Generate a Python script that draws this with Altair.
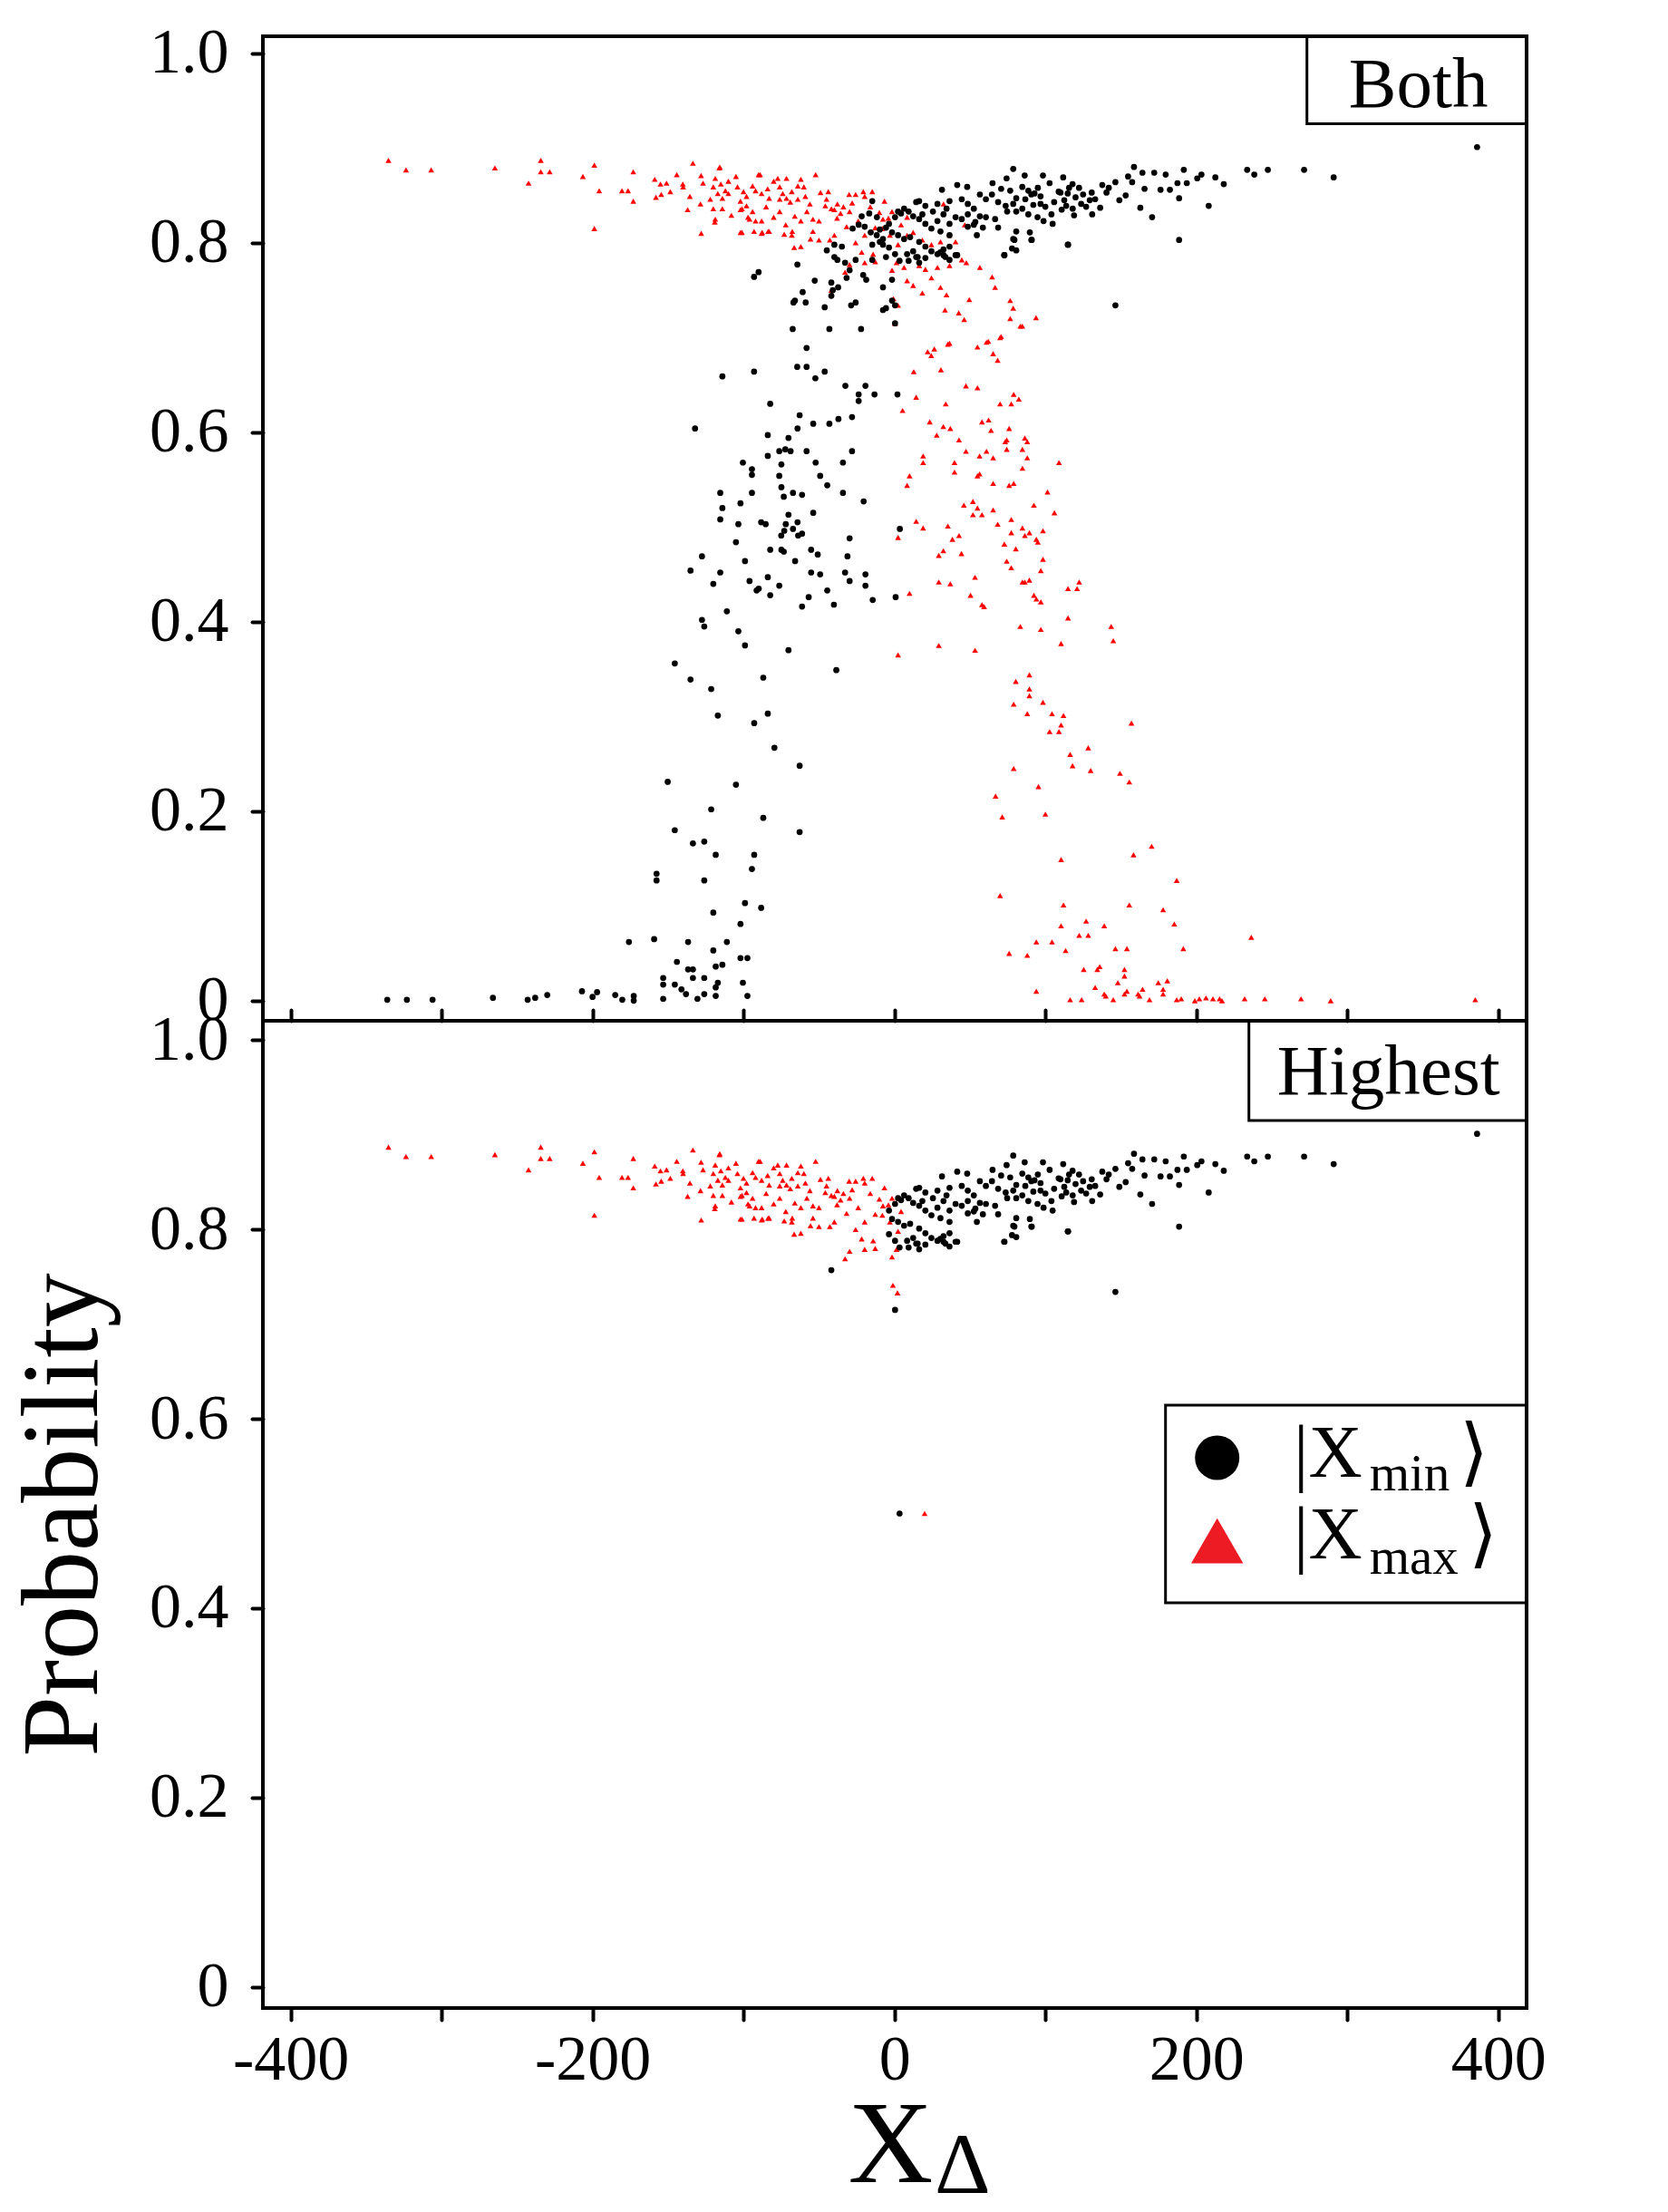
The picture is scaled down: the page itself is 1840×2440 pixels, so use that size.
import altair as alt
import pandas as pd

FONT = "Liberation Serif"

X_DOMAIN = [-418.4, 418.8]
Y_DOMAIN_TOP = [-0.0212, 1.018]
Y_DOMAIN_BOTTOM = [-0.0223, 1.0204]
X_TICKS = [-400, -300, -200, -100, 0, 100, 200, 300, 400]
Y_TICKS = [0, 0.2, 0.4, 0.6, 0.8, 1.0]

# |X_min> (black) : upper branch, right side
MIN_UPPER = [
    (78.7, 0.878), (86.3, 0.871), (98.4, 0.871), (111.8, 0.869), (74.3, 0.868), (65.0, 0.863),
    (41.6, 0.861), (48.2, 0.859), (31.5, 0.856), (70.7, 0.857), (76.7, 0.855), (84.7, 0.859),
    (88.7, 0.855), (92.8, 0.852), (96.8, 0.849), (102.8, 0.863), (108.8, 0.854), (114.8, 0.852),
    (80.7, 0.847), (86.7, 0.846), (90.7, 0.851), (56.6, 0.851), (60.6, 0.846), (64.6, 0.851),
    (68.7, 0.843), (73.7, 0.839), (78.7, 0.841), (84.7, 0.836), (96.8, 0.841), (105.8, 0.843),
    (110.8, 0.835), (113.8, 0.839), (44.6, 0.846), (48.6, 0.841), (52.6, 0.836), (36.5, 0.844),
    (34.5, 0.836), (28.5, 0.841), (25.5, 0.833), (20.5, 0.839), (16.4, 0.844), (14.4, 0.843),
    (6.4, 0.836), (9.4, 0.833), (4.4, 0.831), (2.4, 0.833), (12.4, 0.828), (16.4, 0.825),
    (20.5, 0.820), (18.5, 0.830), (28.5, 0.823), (32.5, 0.830), (36.5, 0.820), (40.5, 0.827),
    (44.6, 0.825), (48.6, 0.830), (53.6, 0.822), (56.6, 0.828), (60.6, 0.827), (66.7, 0.825),
    (74.7, 0.833), (80.7, 0.833), (88.7, 0.830), (94.8, 0.827), (98.8, 0.823), (104.8, 0.820),
    (48.6, 0.817), (52.6, 0.819), (58.6, 0.816), (68.7, 0.816), (80.7, 0.812), (54.6, 0.808),
    (78.7, 0.804), (89.7, 0.811), (90.7, 0.803), (72.7, 0.787), (80.7, 0.792), (114.8, 0.798),
    (36.5, 0.808), (30.5, 0.812), (24.5, 0.815), (0.4, 0.827), (-3.6, 0.820), (-1.6, 0.811),
    (2.4, 0.808), (6.4, 0.804), (10.4, 0.806), (16.4, 0.801), (20.5, 0.796), (24.5, 0.791),
    (32.5, 0.787), (36.5, 0.796), (40.5, 0.787), (12.4, 0.791), (14.4, 0.785), (16.4, 0.779),
    (8.4, 0.788), (20.5, 0.784), (28.5, 0.788), (36.5, 0.782), (41.6, 0.787), (32.5, 0.793),
    (3.4, 0.781), (9.4, 0.781), (15.4, 0.785), (30.4, 0.790), (33.8, 0.785), (72.9, 0.787),
    (77.9, 0.794), (79.5, 0.803), (91.0, 0.803), (386.0, 0.901), (158.7, 0.880), (164.3, 0.874),
    (172.1, 0.874), (179.7, 0.872), (191.7, 0.877), (203.4, 0.872), (212.6, 0.869), (218.2, 0.862),
    (233.7, 0.877), (238.4, 0.872), (247.4, 0.877), (271.4, 0.877), (291.0, 0.869), (146.4, 0.864),
    (154.8, 0.870), (157.5, 0.864), (165.7, 0.857), (176.3, 0.856), (182.5, 0.856), (187.5, 0.863),
    (193.7, 0.863), (200.6, 0.868), (188.6, 0.847), (208.2, 0.839), (162.9, 0.837), (170.7, 0.827),
    (188.6, 0.803), (146.4, 0.734), (115.1, 0.798), (149.0, 0.845), (153.2, 0.850), (136.3, 0.837),
    (123.7, 0.841), (129.4, 0.845), (140.5, 0.853), (130.7, 0.853), (137.7, 0.861), (122.3, 0.858),
    (110.0, 0.853), (115.7, 0.858), (112.5, 0.845), (118.1, 0.836), (120.0, 0.848), (125.0, 0.851),
    (133.0, 0.846), (142.0, 0.858), (127.0, 0.838), (119.0, 0.829), (131.0, 0.830), (100.0, 0.838),
    (104.0, 0.830), (95.0, 0.858), (92.0, 0.840), (118.0, 0.862),
]

# |X_min> (black) : lower branch, left side
MIN_LOWER = [
    (-11.6, 0.827), (-16.7, 0.831), (-14.7, 0.844), (-21.7, 0.828), (-23.7, 0.819), (-19.7, 0.817),
    (-27.7, 0.815), (-15.7, 0.811), (-11.7, 0.808), (-7.6, 0.804), (-14.7, 0.798), (-9.7, 0.801),
    (-7.6, 0.798), (-3.6, 0.795), (0.4, 0.788), (-5.6, 0.785), (-14.7, 0.782), (-25.7, 0.782),
    (-29.7, 0.771), (-31.7, 0.763), (-20.7, 0.766), (-18.7, 0.761), (-39.8, 0.798), (-34.8, 0.796),
    (-44.8, 0.792), (-39.8, 0.785), (-37.8, 0.782), (-32.7, 0.779), (-52.8, 0.760), (-41.8, 0.758),
    (-40.8, 0.750), (-41.8, 0.744), (-37.3, 0.753), (-64.3, 0.777), (-93.0, 0.764), (-90.0, 0.769),
    (-60.8, 0.748), (-66.9, 0.737), (-65.9, 0.739), (-58.8, 0.737), (-46.2, 0.732), (-28.7, 0.734),
    (-25.7, 0.737), (-7.6, 0.753), (-1.6, 0.761), (-1.6, 0.739), (-7.6, 0.729), (-5.6, 0.731),
    (0.4, 0.734), (0.4, 0.715), (-5.6, 0.816), (-9.7, 0.814),
    (-67.4, 0.709), (-43.1, 0.709), (-22.1, 0.709), (-58.2, 0.689), (-114.0, 0.659), (-93.0, 0.664),
    (-64.4, 0.669), (-58.2, 0.669), (-52.4, 0.657), (-46.2, 0.664), (-32.5, 0.649), (-19.2, 0.649),
    (-23.7, 0.640), (-23.7, 0.633), (-13.2, 0.640), (2.0, 0.640), (-82.3, 0.630), (-62.8, 0.618),
    (-64.2, 0.604), (-53.8, 0.609), (-43.1, 0.609), (-37.1, 0.614), (-28.1, 0.616), (-132.1, 0.604),
    (-83.9, 0.597), (-70.2, 0.594), (-76.3, 0.580), (-72.3, 0.582), (-68.8, 0.580), (-58.2, 0.580),
    (-28.1, 0.580), (-83.9, 0.575), (-100.4, 0.568), (-74.9, 0.566), (-52.2, 0.568), (-34.1, 0.568),
    (-94.4, 0.561), (-94.4, 0.555), (-76.3, 0.554), (-49.2, 0.554), (-44.5, 0.544), (-74.9, 0.542),
    (-73.3, 0.532), (-67.2, 0.536), (-61.2, 0.534), (-34.1, 0.536), (-20.4, 0.527), (-115.4, 0.536),
    (-102.0, 0.525), (-114.0, 0.520), (-115.4, 0.508), (-103.4, 0.503), (-94.4, 0.536), (-70.2, 0.513),
    (-53.8, 0.515), (-88.3, 0.505), (-85.3, 0.503), (-72.0, 0.503), (-67.2, 0.498), (-64.2, 0.505),
    (-73.0, 0.496), (-63.8, 0.491), (-61.2, 0.493), (-75.0, 0.491), (-105.0, 0.484), (-29.7, 0.488),
    (3.6, 0.498), (-82.3, 0.476), (-74.9, 0.476), (-73.3, 0.474), (-55.2, 0.476), (-50.8, 0.471),
    (-31.1, 0.469), (-127.5, 0.469), (-99.0, 0.464), (-65.8, 0.464), (-135.1, 0.454), (-115.4, 0.452),
    (-55.2, 0.452), (-49.2, 0.450), (-32.7, 0.452), (-19.2, 0.450), (-29.7, 0.443), (-19.2, 0.438),
    (-120.0, 0.440), (-96.0, 0.443), (-83.9, 0.447), (-76.3, 0.438), (-91.3, 0.433), (-89.9, 0.435),
    (-82.3, 0.428), (-44.5, 0.433), (-56.8, 0.426), (-40.1, 0.418), (-61.2, 0.416), (-14.4, 0.423),
    (0.8, 0.426), (-111.0, 0.411), (-127.5, 0.402), (-126.0, 0.395), (-103.4, 0.390), (-99.0, 0.375),
    (-70.2, 0.370), (-145.5, 0.356), (-135.1, 0.339), (-121.4, 0.329), (-86.9, 0.341), (-38.5, 0.349),
    (-117.0, 0.301), (-92.9, 0.293), (-83.9, 0.303), (-79.5, 0.267), (-62.8, 0.248), (-150.2, 0.231),
    (-105.0, 0.228), (-121.4, 0.202), (-86.9, 0.193), (-62.8, 0.178), (-145.5, 0.180), (-133.5, 0.166),
    (-126.0, 0.168), (-118.4, 0.154), (-92.9, 0.154), (-94.4, 0.139), (-157.6, 0.134), (-157.6, 0.127),
    (-126.0, 0.127), (-120.0, 0.093), (-99.0, 0.103), (-88.3, 0.098), (-102.0, 0.081), (-175.9, 0.062),
    (-159.2, 0.065), (-136.7, 0.062), (-111.0, 0.062), (-120.0, 0.053), (-102.0, 0.045), (-97.4, 0.045),
    (-144.1, 0.041), (-136.7, 0.033), (-133.5, 0.033), (-118.4, 0.036), (-114.0, 0.038), (-153.2, 0.024),
    (-153.2, 0.017), (-145.5, 0.017), (-133.5, 0.024), (-126.0, 0.024), (-141.1, 0.012), (-138.1, 0.007),
    (-117.0, 0.019), (-118.4, 0.014), (-100.4, 0.019), (-172.7, 0.005), (-172.7, 0.000), (-180.3, 0.001),
    (-153.2, 0.002), (-130.5, 0.002), (-126.0, 0.007), (-118.4, 0.005), (-97.4, 0.005),
    (-336.0, 0.001), (-323.0, 0.001), (-306.0, 0.001), (-266.0, 0.003), (-243.0, 0.001), (-238.0, 0.003),
    (-230.0, 0.006), (-207.0, 0.010), (-200.0, 0.004), (-197.0, 0.009), (-185.0, 0.006),
]

# |X_max> (red) : upper branch, left side
MAX_UPPER = [
    (-335.2, 0.887), (-323.6, 0.877), (-306.9, 0.877), (-264.7, 0.879), (-242.4, 0.863), (-234.3, 0.887),
    (-234.3, 0.875), (-228.4, 0.875), (-206.4, 0.870), (-198.8, 0.882), (-198.8, 0.815), (-195.6, 0.855),
    (-180.5, 0.855), (-176.5, 0.855), (-173.0, 0.875), (-173.0, 0.844), (-158.8, 0.867), (-155.0, 0.862),
    (-151.0, 0.863), (-144.2, 0.872), (-140.2, 0.862), (-133.5, 0.884), (-128.1, 0.871), (-126.8, 0.863),
    (-116.0, 0.879), (-118.7, 0.868), (-158.0, 0.848), (-154.5, 0.851), (-148.5, 0.854), (-140.0, 0.859),
    (-135.5, 0.849), (-137.0, 0.835), (-128.5, 0.841), (-128.0, 0.810), (-118.7, 0.825), (-101.0, 0.811),
    (-93.0, 0.812), (-87.6, 0.811), (-83.7, 0.812), (-89.0, 0.872), (-77.3, 0.868), (-101.0, 0.836),
    (-97.0, 0.827), (-73.0, 0.809), (-67.7, 0.812), (-66.4, 0.795), (-55.6, 0.804), (-49.0, 0.853),
    (-30.0, 0.851), (-20.6, 0.854), (-115.7, 0.880), (-90.0, 0.872), (-71.5, 0.868), (-52.2, 0.872),
    (-120.0, 0.859), (-115.0, 0.862), (-112.0, 0.855), (-117.0, 0.852), (-122.0, 0.846), (-114.0, 0.847),
    (-110.0, 0.852), (-104.0, 0.859), (-100.0, 0.854), (-94.0, 0.860), (-92.0, 0.855), (-88.0, 0.852),
    (-84.0, 0.857), (-83.0, 0.847), (-98.0, 0.849), (-102.0, 0.844), (-76.0, 0.859), (-74.0, 0.852),
    (-71.5, 0.847), (-68.0, 0.854), (-64.0, 0.860), (-60.0, 0.859), (-59.0, 0.849), (-64.0, 0.846),
    (-69.0, 0.843), (-76.0, 0.846), (-43.8, 0.854), (-25.7, 0.851), (-19.7, 0.849), (-14.7, 0.854),
    (-6.6, 0.844), (-45.8, 0.839), (-41.8, 0.836), (-37.8, 0.841), (-33.8, 0.838), (-29.7, 0.833),
    (-35.7, 0.831), (-39.8, 0.835), (-120.0, 0.836), (-114.0, 0.836), (-102.0, 0.835), (-98.0, 0.839),
    (-94.0, 0.833), (-76.0, 0.833), (-80.0, 0.827), (-66.0, 0.828), (-62.0, 0.823), (-58.0, 0.833),
    (-54.0, 0.825), (-50.0, 0.823), (-88.0, 0.823), (-96.0, 0.825), (-92.0, 0.823), (-119.0, 0.822),
    (-72.0, 0.819), (-102.0, 0.811), (-88.0, 0.810), (-83.0, 0.812), (-68.0, 0.808), (-54.0, 0.812),
    (-50.0, 0.803), (-39.8, 0.808), (-31.7, 0.817), (-25.7, 0.800), (-19.7, 0.808), (-62.0, 0.796),
    (-42.8, 0.803), (-12.7, 0.816), (-7.6, 0.825), (-1.6, 0.833), (-14.1, 0.788), (-21.7, 0.790),
    (-19.7, 0.779), (-12.7, 0.780), (-1.6, 0.771), (1.4, 0.779), (-29.7, 0.777), (-32.7, 0.769),
    (-110.0, 0.865), (-105.0, 0.870), (-80.0, 0.865), (-62.0, 0.867), (-45.0, 0.846), (-38.0, 0.826),
    (-28.0, 0.842), (-16.0, 0.838), (-10.0, 0.832), (-4.0, 0.826), (-8.0, 0.815), (-3.0, 0.808),
    (-24.0, 0.823), (-56.0, 0.841), (-85.0, 0.838), (-108.0, 0.829), (4.4, 0.819), (2.4, 0.798),
    (8.4, 0.827), (8.4, 0.808), (12.4, 0.811), (18.5, 0.803), (24.5, 0.798), (30.5, 0.801),
    (36.5, 0.808), (40.5, 0.801), (32.5, 0.841), (46.6, 0.819), (6.4, 0.774), (16.4, 0.776),
    (20.5, 0.772), (28.5, 0.774), (36.5, 0.776), (44.6, 0.782), (47.6, 0.779), (56.6, 0.774),
]

# |X_max> (red) : lower branch, right side
MAX_LOWER = [
    (8.4, 0.760), (12.4, 0.755), (24.5, 0.763), (30.5, 0.753), (34.5, 0.745), (18.5, 0.747),
    (-0.6, 0.741), (2.4, 0.734), (-41.8, 0.750), (0.4, 0.715), (49.6, 0.740), (76.7, 0.739),
    (78.7, 0.731), (93.8, 0.721), (84.7, 0.712), (76.7, 0.720), (33.5, 0.729), (42.6, 0.726),
    (46.2, 0.719), (70.7, 0.701), (62.2, 0.696), (36.5, 0.694), (64.7, 0.764), (66.7, 0.753),
    (83.4, 0.712), (70.0, 0.700), (61.0, 0.695), (55.0, 0.690), (35.4, 0.693), (22.0, 0.685),
    (26.4, 0.688), (24.4, 0.681), (65.4, 0.683), (68.4, 0.676), (12.8, 0.664), (30.8, 0.666),
    (47.4, 0.649), (55.0, 0.647), (14.4, 0.637), (5.4, 0.623), (34.0, 0.630), (70.0, 0.630),
    (77.4, 0.630), (79.0, 0.640), (82.4, 0.635), (23.4, 0.611), (32.4, 0.606), (37.0, 0.604),
    (28.0, 0.597), (58.0, 0.611), (62.4, 0.613), (64.0, 0.602), (76.0, 0.604), (42.8, 0.592),
    (47.4, 0.580), (61.0, 0.580), (56.4, 0.575), (65.4, 0.573), (73.4, 0.590), (74.4, 0.592),
    (74.4, 0.582), (86.4, 0.594), (88.0, 0.590), (84.8, 0.582), (88.0, 0.573), (84.8, 0.562),
    (109.0, 0.568), (19.0, 0.575), (19.0, 0.568), (39.8, 0.568), (39.8, 0.558), (55.0, 0.554),
    (56.4, 0.556), (10.0, 0.554), (8.4, 0.544), (65.4, 0.546), (76.0, 0.544), (79.0, 0.546),
    (101.4, 0.537), (92.4, 0.523), (106.0, 0.515), (46.0, 0.523), (52.0, 0.527), (55.0, 0.520),
    (52.0, 0.513), (58.0, 0.513), (65.4, 0.518), (14.4, 0.506), (19.0, 0.499), (35.4, 0.501),
    (68.4, 0.503), (77.4, 0.508), (77.4, 0.494), (84.8, 0.499), (86.4, 0.491), (89.4, 0.494),
    (94.0, 0.487), (95.0, 0.484), (98.4, 0.496), (2.4, 0.489), (42.8, 0.491), (38.4, 0.487),
    (72.8, 0.482), (80.4, 0.477), (32.4, 0.475), (29.4, 0.470), (44.4, 0.472), (74.4, 0.464),
    (77.4, 0.457), (98.4, 0.466), (97.0, 0.454), (53.4, 0.447), (29.4, 0.442), (37.0, 0.440),
    (84.8, 0.442), (86.4, 0.442), (89.4, 0.444), (115.0, 0.435), (121.0, 0.435), (122.4, 0.442),
    (10.0, 0.430), (50.4, 0.428), (58.0, 0.418), (59.4, 0.416), (92.4, 0.428), (94.0, 0.424),
    (97.0, 0.421), (115.0, 0.404), (83.4, 0.395), (97.0, 0.392), (143.6, 0.395), (145.0, 0.380),
    (110.4, 0.377), (29.4, 0.375), (53.4, 0.370), (2.4, 0.365), (89.4, 0.344), (80.4, 0.337),
    (89.4, 0.329), (89.4, 0.322), (79.0, 0.313), (98.4, 0.315), (88.0, 0.303), (104.4, 0.303),
    (112.0, 0.301), (110.4, 0.291), (109.0, 0.284), (102.8, 0.284), (157.0, 0.293), (116.4, 0.260),
    (118.0, 0.248), (128.4, 0.267), (130.0, 0.243), (149.4, 0.240), (155.6, 0.231), (79.0, 0.245),
    (95.4, 0.226), (67.0, 0.216), (71.4, 0.194), (100.0, 0.197), (110.4, 0.149), (158.4, 0.154),
    (170.4, 0.163), (187.0, 0.127), (70.0, 0.111), (112.0, 0.101), (155.6, 0.101), (178.0, 0.096),
    (185.4, 0.081), (110.4, 0.079), (127.0, 0.084), (122.4, 0.069), (128.4, 0.069), (139.0, 0.079),
    (94.0, 0.062), (104.4, 0.062), (76.0, 0.050), (88.0, 0.048), (113.4, 0.053), (146.4, 0.055),
    (154.0, 0.055), (191.4, 0.055), (236.4, 0.067), (125.4, 0.033), (134.4, 0.033), (136.0, 0.036),
    (152.4, 0.033), (152.4, 0.026), (148.0, 0.019), (133.0, 0.014), (139.0, 0.007), (140.0, 0.005),
    (152.4, 0.007), (154.0, 0.010), (161.4, 0.007), (164.4, 0.012), (162.4, 0.005), (174.8, 0.019),
    (180.8, 0.021), (178.0, 0.012), (178.0, 0.007), (94.0, 0.010), (116.4, 0.001), (124.0, 0.001),
    (145.0, 0.001), (169.0, 0.001), (187.0, 0.001), (190.0, 0.002), (199.0, 0.000), (202.0, 0.002),
    (206.4, 0.003), (211.0, 0.002), (215.4, 0.002), (217.0, 0.000), (232.0, 0.002), (245.4, 0.002),
    (269.4, 0.002), (289.0, 0.000), (384.8, 0.001),
]

# extra points that only appear in the "Highest" panel
HIGHEST_EXTRA_MIN = [(-41.8, 0.757), (0.4, 0.715), (146.4, 0.734), (3.4, 0.500)]
HIGHEST_EXTRA_MAX = [(-1.0, 0.741), (2.0, 0.733), (20.0, 0.500)]

W, H1, H2 = 1394, 1086, 1089

min_all = pd.DataFrame(MIN_UPPER + MIN_LOWER, columns=["x", "p"])
max_all = pd.DataFrame(MAX_UPPER + MAX_LOWER, columns=["x", "p"])
min_high = pd.concat([
    min_all[(min_all.x >= -5) & (min_all.p >= 0.765)],
    pd.DataFrame(HIGHEST_EXTRA_MIN, columns=["x", "p"]),
])
max_high = pd.concat([
    max_all[(max_all.x <= 5) & (max_all.p >= 0.765)],
    pd.DataFrame(HIGHEST_EXTRA_MAX, columns=["x", "p"]),
])
ONE = pd.DataFrame({"k": [0]})

Y_LABEL_EXPR = "datum.value == 0 ? '0' : format(datum.value, '.1f')"
X_LABEL_EXPR = "datum.value % 200 == 0 ? (datum.value < 0 ? '-' : '') + abs(datum.value) : ''"
LABEL_SIZE = 70


def y_axis():
    return alt.Axis(
        values=Y_TICKS, labelExpr=Y_LABEL_EXPR, tickSize=12, tickWidth=4, tickColor="black",
        tickCap="round", domain=False, grid=False, labelFont=FONT, labelFontSize=LABEL_SIZE,
        labelColor="black", labelPadding=26, titleFont=FONT, titleFontSize=120,
        titleFontWeight="normal", titleColor="black", titlePadding=33,
    )


top_x_axis = alt.Axis(
    values=X_TICKS, labels=False, tickSize=12, tickWidth=4, tickColor="black",
    tickCap="round", domain=False, grid=False, offset=-12,
)
bottom_x_axis = alt.Axis(
    values=X_TICKS, labelExpr=X_LABEL_EXPR, tickSize=13, tickWidth=4, tickColor="black",
    tickCap="round", domain=False, grid=False, labelFont=FONT, labelFontSize=LABEL_SIZE,
    labelColor="black", labelPadding=10, labelFlush=False, titleFont=FONT,
    titleFontSize=130, titleFontWeight="normal", titleColor="black",
    titleX=692, titleY=191, titleAlign="center", titleBaseline="alphabetic",
)


def scatter(df_min, df_max, x_axis, y_domain, x_title, y_title):
    xs = alt.Scale(domain=X_DOMAIN, nice=False, zero=False)
    ys = alt.Scale(domain=y_domain, nice=False, zero=False)
    if x_title:
        xe = alt.X("x:Q", scale=xs, axis=x_axis, title=x_title)
    else:
        xe = alt.X("x:Q", scale=xs, axis=x_axis, title=None)
    if y_title:
        ye = alt.Y("p:Q", scale=ys, axis=y_axis(), title=y_title)
    else:
        ye = alt.Y("p:Q", scale=ys, axis=y_axis(), title=None)
    red = alt.Chart(df_max).mark_point(
        shape="triangle-up", filled=True, size=42, color="#ff0000", opacity=1
    ).encode(x=xe, y=ye)
    black = alt.Chart(df_min).mark_point(
        shape="circle", filled=True, size=45, color="black", opacity=1
    ).encode(x=xe, y=ye)
    return red, black


def box(x1, x2, y1, y2):
    return alt.Chart(ONE).mark_rect(
        fill="white", fillOpacity=0, stroke="black", strokeWidth=3
    ).encode(x=alt.value(x1), x2=alt.value(x2), y=alt.value(y1), y2=alt.value(y2))


def label(txt, x, y, size, align="left", font=FONT):
    return alt.Chart(ONE).mark_text(
        text=txt, font=font, fontSize=size, align=align, baseline="alphabetic", color="black"
    ).encode(x=alt.value(x), y=alt.value(y))


# ---- top panel: Both
red_t, black_t = scatter(min_all, max_all, top_x_axis, Y_DOMAIN_TOP, None, None)
top = alt.layer(
    red_t, black_t,
    box(1151.7, W, 0, 96.5),
    label("Both", 1274.7, 77.5, 79, align="center"),
).properties(width=W, height=H1)

# ---- bottom panel: Highest
red_b, black_b = scatter(min_high, max_high, bottom_x_axis, Y_DOMAIN_BOTTOM, "X", "Probability")
legend_symbol_min = alt.Chart(ONE).mark_point(
    shape="circle", filled=True, size=2400, color="black", opacity=1
).encode(x=alt.value(1052.7), y=alt.value(482))
legend_symbol_max = alt.Chart(ONE).mark_point(
    shape="triangle-up", filled=True, size=3300, color="#ED1C24", opacity=1
).encode(x=alt.value(1052.7), y=alt.value(573.5))

bottom = alt.layer(
    red_b, black_b,
    box(1087.7, W, 0, 110),
    label("Highest", 1241.7, 81, 79, align="center"),
    box(995.7, W, 424, 642),
    legend_symbol_min, legend_symbol_max,
    label("|X", 1137, 503, 82),
    label("min", 1220.7, 518, 57),
    label("\u27e9", 1320, 503, 82, font="DejaVu Serif"),
    label("|X", 1137, 593, 82),
    label("max", 1220.7, 610, 57),
    label("\u27e9", 1330, 593, 82, font="DejaVu Serif"),
    label("\u0394", 741, 1293, 96),
).properties(width=W, height=H2)

chart = alt.vconcat(top, bottom, spacing=0, bounds="flush").properties(
    padding={"left": 0, "top": 13, "right": 10, "bottom": 5}
).configure_view(stroke="black", strokeWidth=4)

chart.save("out.html", embed_options={"renderer": "svg", "actions": False})
